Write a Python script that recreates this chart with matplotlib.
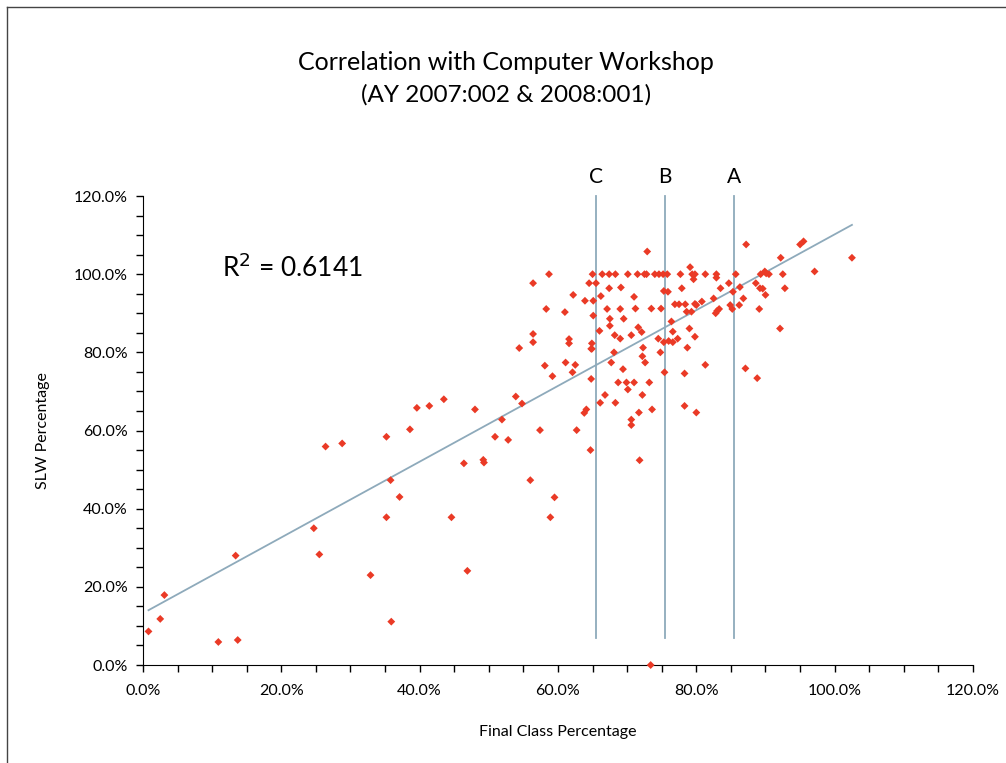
import numpy as np
import matplotlib
matplotlib.use("Agg")
import matplotlib.pyplot as plt
from matplotlib.lines import Line2D
from matplotlib.ticker import MultipleLocator, PercentFormatter

plt.rcParams["font.family"] = ["Lato", "DejaVu Sans"]

# final class % vs SLW %
final_pct = [
    0.8, 2.5, 3.1, 10.9, 13.7, 13.4, 24.7, 25.5, 26.4, 28.8, 32.9, 35.9, 35.2, 38.6, 39.6,
    41.4, 43.5, 48.0, 35.8, 37.1, 35.2, 44.6, 46.9, 46.4, 49.2, 49.3, 50.9, 52.8, 51.9, 53.9,
    54.8, 57.4, 56.0, 59.5, 58.9, 58.1, 59.2, 61.1, 73.4,
    56.4, 56.4, 56.4, 54.4, 58.7, 58.3,
    62.5, 62.1, 64.8, 67.7, 69.4, 68.7, 69.9, 71.0, 70.1, 73.2, 66.8, 66.1, 68.3, 72.2, 71.7,
    73.6, 70.6, 70.6, 63.8, 64.1, 62.7, 64.7, 71.8, 74.8, 75.4, 78.3, 81.3, 78.3, 80.0, 72.2,
    72.6, 68.1, 64.9, 87.1, 88.8,
    65.0, 66.4, 67.4, 68.3, 70.1, 71.5, 72.5, 72.8, 74.0, 74.6, 75.2, 75.8, 77.7, 79.4, 79.8,
    81.3, 82.9, 85.7, 89.3, 90.5, 92.5,
    72.9, 62.2, 63.9, 65.1, 64.5, 65.5, 67.4, 69.1, 66.2, 71.0, 61.0, 67.1, 69.0, 71.2, 73.5,
    74.9, 65.1, 67.5, 69.5, 67.5, 66.0, 71.6, 72.1, 61.6, 61.6, 64.9, 64.8, 68.2, 69.0, 70.6,
    72.3, 74.5, 75.3, 76.0, 76.6, 77.3, 76.6, 76.4, 78.7, 79.0, 79.8, 75.9, 75.3, 77.9, 76.9,
    77.5, 78.4, 79.8, 80.0, 78.6, 79.3, 79.1, 79.6, 80.8, 82.5, 83.5, 83.3, 82.8, 83.0, 84.9,
    85.2, 86.2, 86.8, 85.3, 86.3, 84.7, 88.6, 89.2, 89.6, 90.0, 89.1, 92.1, 92.8, 89.9, 90.1,
    97.1, 92.2, 102.5, 87.2, 95.0, 95.5, 82.9,
]
slw_pct = [
    8.6, 11.8, 17.9, 5.9, 6.4, 28.0, 35.0, 28.3, 55.9, 56.7, 23.0, 11.1, 58.4, 60.3, 65.8,
    66.3, 68.0, 65.4, 47.3, 43.0, 37.8, 37.8, 24.1, 51.6, 52.5, 51.8, 58.4, 57.6, 62.8, 68.7,
    66.9, 60.1, 47.3, 42.9, 37.8, 76.6, 73.9, 77.4, 0.0,
    97.7, 84.7, 82.6, 81.1, 100.0, 91.1,
    76.8, 74.9, 73.2, 77.4, 75.7, 72.3, 72.3, 72.3, 70.5, 72.3, 69.1, 67.1, 67.1, 69.1, 64.6,
    65.4, 62.8, 61.4, 64.5, 65.4, 60.1, 55.0, 52.4, 80.0, 74.9, 74.6, 76.8, 66.3, 64.6, 79.0,
    77.4, 80.0, 80.9, 75.9, 73.4,
    100.0, 100.0, 100.0, 100.0, 100.0, 100.0, 100.0, 100.0, 100.0, 100.0, 100.0, 100.0, 100.0,
    100.0, 100.0, 100.0, 100.0, 100.0, 100.0, 100.0, 100.0,
    105.8, 94.7, 93.2, 93.2, 97.7, 97.7, 96.4, 96.6, 94.4, 94.2, 90.3, 91.1, 91.1, 91.2, 91.2,
    91.2, 89.4, 88.6, 88.6, 86.8, 85.5, 86.4, 85.2, 83.4, 82.3, 82.3, 80.9, 84.4, 83.5, 84.4,
    81.2, 83.5, 82.6, 82.9, 82.6, 83.5, 85.3, 87.9, 81.2, 86.1, 84.0, 95.5, 95.7, 96.4, 92.3,
    92.3, 92.3, 92.4, 92.1, 90.4, 90.4, 101.8, 98.7, 93.0, 93.8, 96.4, 91.1, 90.0, 90.6, 92.1,
    91.1, 92.1, 93.8, 95.5, 96.7, 97.7, 97.7, 96.4, 96.3, 94.7, 91.1, 86.1, 96.4, 100.7, 100.2,
    100.7, 104.2, 104.2, 107.6, 107.6, 108.4, 99.1,
]

grade_cutoffs = [65.5, 75.5, 85.5]
grade_letters = ["C", "B", "A"]
r_squared = "0.6141"

x = np.array(final_pct) / 100
y = np.array(slw_pct) / 100

fig = plt.figure(figsize=(10.06, 7.63), dpi=100)
ax = fig.add_axes([0.1421, 0.1284, 0.8251, 0.6147])

line_col = "#8eaabb"
for c, letter in zip(grade_cutoffs, grade_letters):
    ax.plot([c / 100, c / 100], [0.07, 1.2], color=line_col, lw=1.3, zorder=1, clip_on=False)
    ax.text(c / 100, 1.223, letter, ha="center", va="bottom", fontsize=15)

slope, intercept = np.polyfit(x, y, 1)
xs = np.array([x.min(), x.max()])
ax.plot(xs, slope * xs + intercept, color=line_col, lw=1.3, zorder=2)

ax.scatter(x, y, marker="D", s=16, color="#ea3a26", edgecolors="none", zorder=3, clip_on=False)

ax.text(0.114, 1.016, "R$^2$ = " + r_squared, fontsize=19, va="center")

ax.set_xlim(0, 1.2)
ax.set_ylim(0, 1.2)
ax.xaxis.set_major_locator(MultipleLocator(0.2))
ax.xaxis.set_minor_locator(MultipleLocator(0.05))
ax.yaxis.set_major_locator(MultipleLocator(0.2))
ax.yaxis.set_minor_locator(MultipleLocator(0.05))
ax.xaxis.set_major_formatter(PercentFormatter(1.0, decimals=1))
ax.yaxis.set_major_formatter(PercentFormatter(1.0, decimals=1))
ax.tick_params(which="both", direction="out", length=5, width=1, labelsize=11.5)
ax.tick_params(axis="x", which="major", pad=9)
ax.tick_params(axis="y", which="major", pad=6)
ax.spines["top"].set_visible(False)
ax.spines["right"].set_visible(False)

ax.set_xlabel("Final Class Percentage", fontsize=11.5, labelpad=19)
ax.set_ylabel("SLW Percentage", fontsize=11.5, labelpad=17)

fig.text(0.503, 1 - 62 / 763, "Correlation with Computer Workshop", ha="center", va="center", fontsize=18)
fig.text(0.503, 1 - 95 / 763, "(AY 2007:002 & 2008:001)", ha="center", va="center", fontsize=17.5)

# page frame (top and left only)
fig.add_artist(Line2D([7 / 1006, 1], [1 - 7 / 763, 1 - 7 / 763], color="#444444", lw=1, transform=fig.transFigure))
fig.add_artist(Line2D([7 / 1006, 7 / 1006], [0, 1 - 7 / 763], color="#444444", lw=1, transform=fig.transFigure))

fig.savefig("out.png", dpi=100)
